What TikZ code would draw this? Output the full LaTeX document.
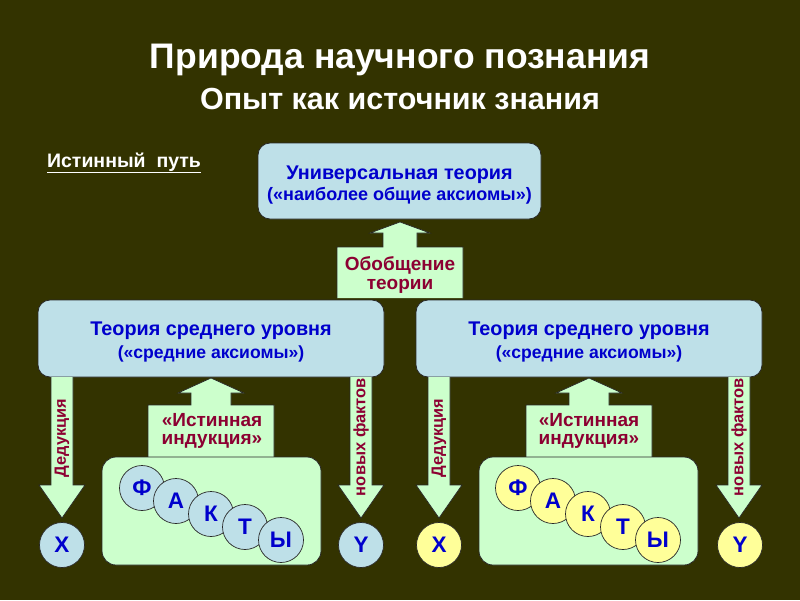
\documentclass[tikz,border=0pt]{standalone}
\usepackage{fontspec}
\setmainfont{Liberation Sans}
\definecolor{bg}{RGB}{51,51,0}
\definecolor{boxblue}{RGB}{190,224,232}
\definecolor{palegreen}{RGB}{204,255,204}
\definecolor{paleyellow}{RGB}{255,255,153}
\definecolor{txtblue}{RGB}{0,0,204}
\definecolor{txtred}{RGB}{140,0,50}
\definecolor{edge}{RGB}{40,40,40}
\tikzset{
  theory/.style={draw=edge, line width=0.8pt, fill=boxblue, rounded corners=12pt},
  factbox/.style={draw=edge, line width=0.8pt, fill=palegreen, rounded corners=14pt},
  barrow/.style={draw=edge, line width=0.7pt, fill=palegreen},
  ttext/.style={text=txtblue, font=\bfseries\fontsize{19.8}{22}\selectfont, align=center},
  atext/.style={text=txtred, font=\bfseries\fontsize{19}{18.5}\selectfont, align=center},
  rtext/.style={text=txtred, font=\bfseries\fontsize{16.3}{18}\selectfont, rotate=90},
  letter/.style={circle, draw=edge, line width=0.7pt, minimum size=45pt, inner sep=0pt, text=txtblue, font=\bfseries\fontsize{22.5}{22}\selectfont},
  bluec/.style={letter, fill=boxblue},
  yellc/.style={letter, fill=paleyellow},
}
\begin{document}
\begin{tikzpicture}[x=1pt,y=-1pt]
\useasboundingbox (0,0) rectangle (800,600);
\fill[bg] (0,0) rectangle (800,600);
% titles
\node[text=white, font=\bfseries\fontsize{35.5}{38}\selectfont] (t1) at (400,60) {Природа научного познания};
\node[text=white, font=\bfseries\fontsize{30.5}{32}\selectfont] (t2) at (400,99) {Опыт как источник знания};
\node[text=white, font=\bfseries\fontsize{19.5}{20}\selectfont] (path) at (124,163) {\underline{Истинный\ \ путь}};
% top box
\draw[theory] (258,143) rectangle (541,219);
\node[ttext] (top) at (399.5,185) {Универсальная теория\\[-1pt]{\fontsize{18}{18}\selectfont(«наиболее общие аксиомы»)}};
% generalisation arrow
\draw[barrow] (337,298) -- (337,247) -- (383,247) -- (383,233) -- (370,233) -- (400,222) -- (430,233) -- (417,233) -- (417,247) -- (463,247) -- (463,298);
\node[atext] (gen) at (400,275) {Обобщение\\теории};
% middle boxes
\draw[theory] (38,300) rectangle (384,377);
\draw[theory] (416,300) rectangle (762,377);
\node[ttext] (midL) at (211,342) {Теория среднего уровня\\[1pt]{\fontsize{17.6}{18}\selectfont(«средние аксиомы»)}};
\node[ttext] (midR) at (589,342) {Теория среднего уровня\\[1pt]{\fontsize{17.6}{18}\selectfont(«средние аксиомы»)}};
% down arrows
\foreach \cx in {62, 361, 439, 739}{
  \draw[barrow] (\cx-11,377) -- (\cx-11,485) -- (\cx-23,485) -- (\cx,518) -- (\cx+23,485) -- (\cx+11,485) -- (\cx+11,377);
}
\node[rtext] (dedL) at (62,438) {Дедукция};
\node[rtext, font=\bfseries\fontsize{16.5}{18}\selectfont] (nfL) at (361,437) {новых фактов};
\node[rtext] (dedR) at (439,438) {Дедукция};
\node[rtext, font=\bfseries\fontsize{16.5}{18}\selectfont] (nfR) at (739,437) {новых фактов};
% induction arrows
\foreach \cx in {211,589}{
  \draw[barrow] (\cx-63,457) -- (\cx-63,405) -- (\cx-20,405) -- (\cx-20,393) -- (\cx-33,393) -- (\cx,378) -- (\cx+33,393) -- (\cx+20,393) -- (\cx+20,405) -- (\cx+63,405) -- (\cx+63,457);
}
\node[atext] (indL) at (212,431) {«Истинная\\индукция»};
\node[atext] (indR) at (589,431) {«Истинная\\индукция»};
% fact boxes
\draw[factbox] (102,457) rectangle (321,565);
\draw[factbox] (479,457) rectangle (698,565);
% letters left
\node[bluec] (f1) at (142,488) {Ф};
\node[bluec] (a1) at (176,501) {А};
\node[bluec] (k1) at (211,514) {К};
\node[bluec] (t1l) at (245,527) {Т};
\node[bluec] (y1) at (281,540) {Ы};
% letters right
\node[yellc] (f2) at (518,488) {Ф};
\node[yellc] (a2) at (553,501) {А};
\node[yellc] (k2) at (588,514) {К};
\node[yellc] (t2l) at (623,527) {Т};
\node[yellc] (y2) at (658,540) {Ы};
% X Y circles
\node[bluec] (xl) at (62,545) {X};
\node[bluec] (yl) at (361,545) {Y};
\node[yellc] (xr) at (439,545) {X};
\node[yellc] (yr) at (740,545) {Y};
\end{tikzpicture}
\end{document}
